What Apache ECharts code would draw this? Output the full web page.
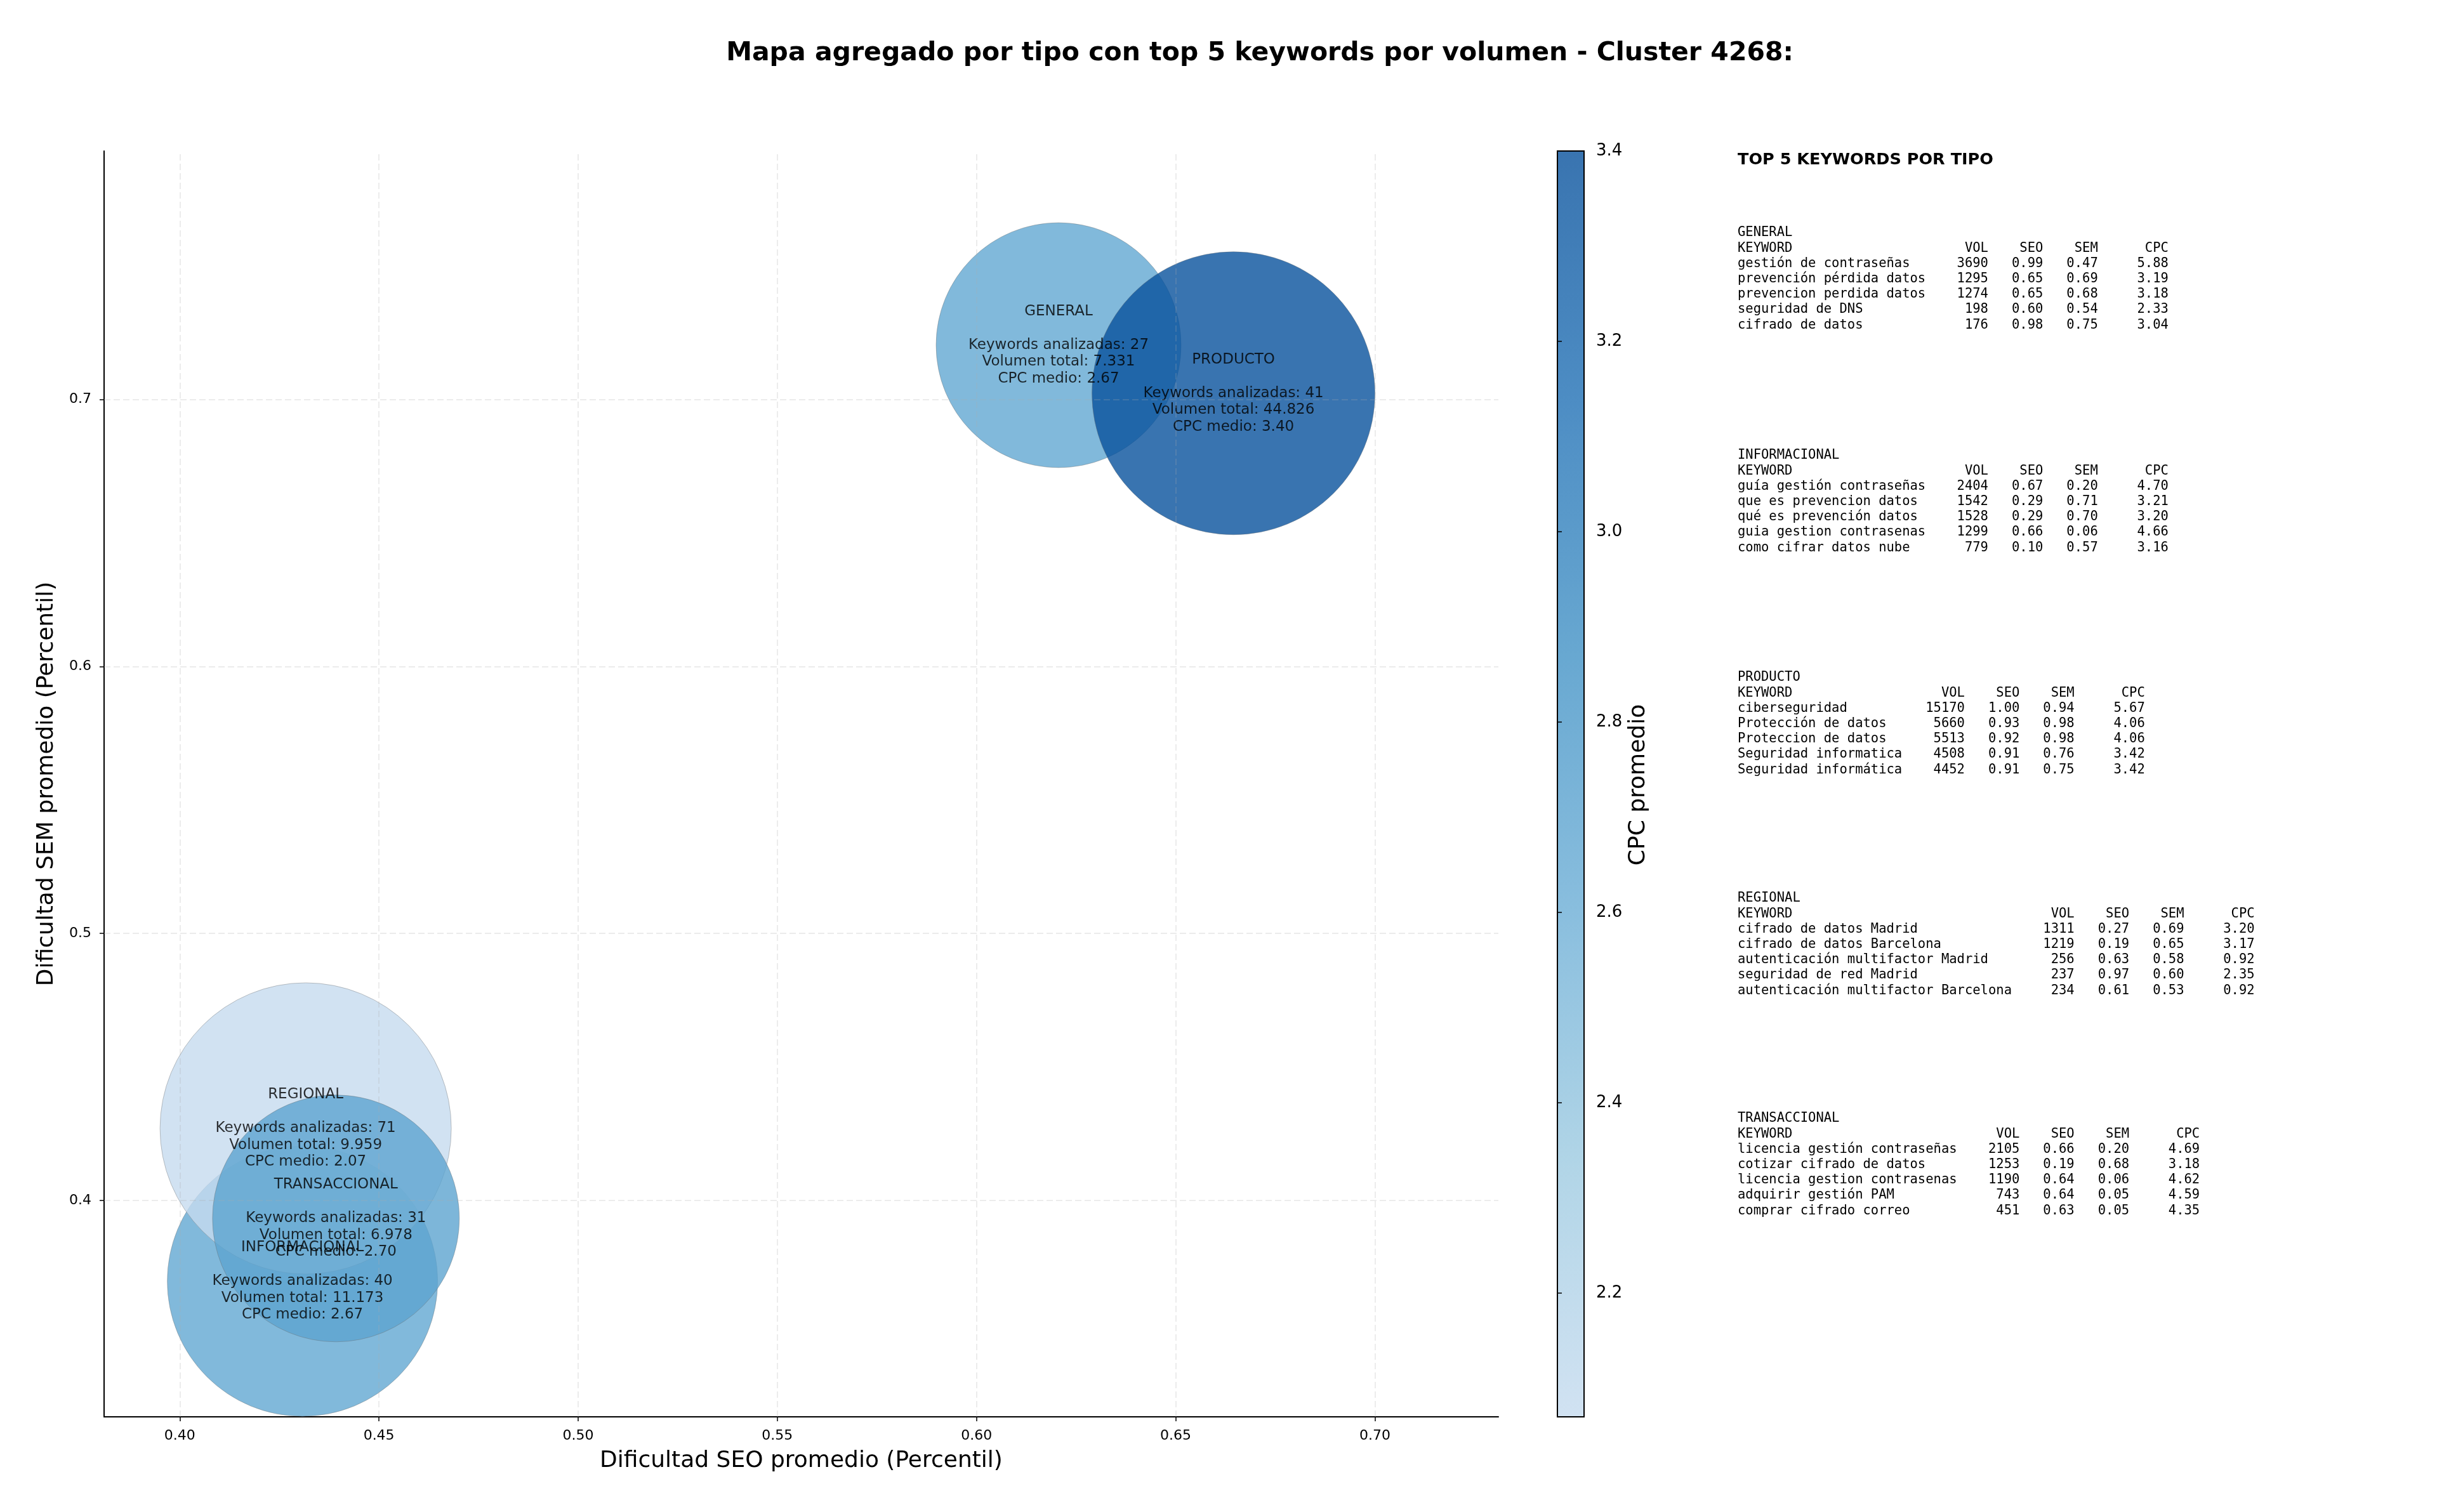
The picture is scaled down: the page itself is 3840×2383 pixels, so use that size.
<!DOCTYPE html>
<html>
<head>
<meta charset="UTF-8">
<title>Mapa agregado por tipo - Cluster 4268</title>
<script src="https://cdn.jsdelivr.net/npm/echarts@6/dist/echarts.min.js"></script>
<style>
html, body { margin: 0; padding: 0; background: #fff; }
#chart { width: 3840px; height: 2383px; }
</style>
</head>
<body>
<div id="chart"></div>
<script>
// datos agregados por tipo
var tipos = ['GENERAL', 'INFORMACIONAL', 'PRODUCTO', 'REGIONAL', 'TRANSACCIONAL'];
var seoMedio = [0.6206, 0.4308, 0.6645, 0.4316, 0.4392];
var semMedio = [0.7203, 0.3698, 0.7023, 0.4270, 0.3933];
var cpcMedio = [2.67, 2.67, 3.40, 2.07, 2.70];
var numKeywords = [27, 40, 41, 71, 31];
var volumenTotal = [7331, 11173, 44826, 9959, 6978];
var tamanoBurbuja = [386, 426, 446, 459, 389]; // diametro

var xTicks = [0.40, 0.45, 0.50, 0.55, 0.60, 0.65, 0.70];
var yTicks = [0.4, 0.5, 0.6, 0.7];
var cbTicks = [2.2, 2.4, 2.6, 2.8, 3.0, 3.2, 3.4];

// top 5 keywords por tipo: [keyword, vol, seo, sem, cpc]
var topGeneral = [
    ['gestión de contraseñas', 3690, 0.99, 0.47, 5.88],
    ['prevención pérdida datos', 1295, 0.65, 0.69, 3.19],
    ['prevencion perdida datos', 1274, 0.65, 0.68, 3.18],
    ['seguridad de DNS', 198, 0.60, 0.54, 2.33],
    ['cifrado de datos', 176, 0.98, 0.75, 3.04]
];
var topInformacional = [
    ['guía gestión contraseñas', 2404, 0.67, 0.20, 4.70],
    ['que es prevencion datos', 1542, 0.29, 0.71, 3.21],
    ['qué es prevención datos', 1528, 0.29, 0.70, 3.20],
    ['guia gestion contrasenas', 1299, 0.66, 0.06, 4.66],
    ['como cifrar datos nube', 779, 0.10, 0.57, 3.16]
];
var topProducto = [
    ['ciberseguridad', 15170, 1.00, 0.94, 5.67],
    ['Protección de datos', 5660, 0.93, 0.98, 4.06],
    ['Proteccion de datos', 5513, 0.92, 0.98, 4.06],
    ['Seguridad informatica', 4508, 0.91, 0.76, 3.42],
    ['Seguridad informática', 4452, 0.91, 0.75, 3.42]
];
var topRegional = [
    ['cifrado de datos Madrid', 1311, 0.27, 0.69, 3.20],
    ['cifrado de datos Barcelona', 1219, 0.19, 0.65, 3.17],
    ['autenticación multifactor Madrid', 256, 0.63, 0.58, 0.92],
    ['seguridad de red Madrid', 237, 0.97, 0.60, 2.35],
    ['autenticación multifactor Barcelona', 234, 0.61, 0.53, 0.92]
];
var topTransaccional = [
    ['licencia gestión contraseñas', 2105, 0.66, 0.20, 4.69],
    ['cotizar cifrado de datos', 1253, 0.19, 0.68, 3.18],
    ['licencia gestion contrasenas', 1190, 0.64, 0.06, 4.62],
    ['adquirir gestión PAM', 743, 0.64, 0.05, 4.59],
    ['comprar cifrado correo', 451, 0.63, 0.05, 4.35]
];
var bloques = [
    ['GENERAL', topGeneral],
    ['INFORMACIONAL', topInformacional],
    ['PRODUCTO', topProducto],
    ['REGIONAL', topRegional],
    ['TRANSACCIONAL', topTransaccional]
];

var SANS = '"DejaVu Sans", sans-serif';
var MONO = '"DejaVu Sans Mono", monospace';
var azules = ['#c6dbef', '#9ecae1', '#6baed6', '#4292c6', '#2171b5', '#08519c'];
var ALPHA = 0.8;

function mezcla(hex) {
    var r = parseInt(hex.substr(1, 2), 16), g = parseInt(hex.substr(3, 2), 16), b = parseInt(hex.substr(5, 2), 16);
    var f = function (c) { return Math.round(c * ALPHA + 255 * (1 - ALPHA)); };
    return 'rgb(' + f(r) + ',' + f(g) + ',' + f(b) + ')';
}
function miles(v) {
    return String(v).replace(/\B(?=(\d{3})+(?!\d))/g, '.');
}

var datos = tipos.map(function (t, i) {
    return { name: t, value: [seoMedio[i], semMedio[i], cpcMedio[i]] };
});

// degradado del colorbar (arriba = max)
var stops = azules.slice().reverse().map(function (c, i, arr) {
    return { offset: i / (arr.length - 1), color: mezcla(c) };
});

var graficos = [
    {
        type: 'text', x: 1985, y: 84,
        style: { text: 'Mapa agregado por tipo con top 5 keywords por volumen - Cluster 4268:', font: 'bold 41px ' + SANS, fill: '#000', align: 'center', verticalAlign: 'middle' }
    },
    {
        type: 'text', x: 2738, y: 252,
        style: { text: 'TOP 5 KEYWORDS POR TIPO', font: 'bold 25.5px ' + SANS, fill: '#000', align: 'left', verticalAlign: 'middle' }
    },
    {
        type: 'text', x: 2582, y: 1237, rotation: Math.PI / 2,
        style: { text: 'CPC promedio', font: '36px ' + SANS, fill: '#000', align: 'center', verticalAlign: 'middle' }
    }
];
// tablas en texto monoespaciado
var yBloque = [367, 718, 1068, 1416, 1763];
bloques.forEach(function (b, k) {
    var filas = b[1];
    var w = Math.max.apply(null, filas.map(function (f) { return f[0].length; }));
    var lineas = [b[0], 'KEYWORD'.padEnd(w) + 'VOL'.padStart(8) + 'SEO'.padStart(7) + 'SEM'.padStart(7) + 'CPC'.padStart(9)];
    filas.forEach(function (f) {
        lineas.push(f[0].padEnd(w) + String(f[1]).padStart(8) + f[2].toFixed(2).padStart(7) + f[3].toFixed(2).padStart(7) + f[4].toFixed(2).padStart(9));
    });
    graficos.push({
        type: 'text', x: 2738, y: yBloque[k] - 12,
        style: { text: lineas.join('\n'), font: '20.5px ' + MONO, lineHeight: 24.2, fill: '#000', align: 'left', verticalAlign: 'top' }
    });
});

var chart = echarts.init(document.getElementById('chart'));
var option = {
    backgroundColor: '#fff',
    animation: false,
    graphic: graficos,
    grid: [
        { left: 164, right: 1479, top: 238, bottom: 150 },
        { left: 2454, width: 42, top: 238, bottom: 150, show: true, borderColor: '#000', borderWidth: 2, backgroundColor: { type: 'linear', x: 0, y: 0, x2: 0, y2: 1, colorStops: stops } }
    ],
    visualMap: {
        show: false, type: 'continuous', seriesIndex: 0, dimension: 2,
        min: Math.min.apply(null, cpcMedio), max: Math.max.apply(null, cpcMedio),
        inRange: { color: azules }
    },
    xAxis: [
        {
            gridIndex: 0, type: 'value', min: 0.381, max: 0.731,
            name: 'Dificultad SEO promedio (Percentil)', nameLocation: 'middle', nameGap: 52,
            nameTextStyle: { fontFamily: SANS, fontSize: 36, color: '#000' },
            axisLine: { lineStyle: { color: '#000', width: 2 } },
            axisTick: { customValues: xTicks, length: 7, lineStyle: { color: '#000', width: 1.5 } },
            axisLabel: { customValues: xTicks, margin: 19, fontFamily: SANS, fontSize: 22, color: '#000', formatter: function (v) { return v.toFixed(2); } },
            splitLine: { show: false }
        },
        { gridIndex: 1, type: 'value', min: 0, max: 1, show: false }
    ],
    yAxis: [
        {
            gridIndex: 0, type: 'value', min: 0.319, max: 0.793,
            name: 'Dificultad SEM promedio (Percentil)', nameLocation: 'middle', nameGap: 72,
            nameTextStyle: { fontFamily: SANS, fontSize: 36, color: '#000' },
            axisLine: { show: true, lineStyle: { color: '#000', width: 2 } },
            axisTick: { show: true, customValues: yTicks, length: 7, lineStyle: { color: '#000', width: 1.5 } },
            axisLabel: { customValues: yTicks, margin: 20, fontFamily: SANS, fontSize: 22, color: '#000', formatter: function (v) { return v.toFixed(1); } },
            splitLine: { show: false }
        },
        {
            gridIndex: 1, type: 'value', position: 'right',
            min: Math.min.apply(null, cpcMedio), max: Math.max.apply(null, cpcMedio),
            axisLine: { show: false },
            axisTick: { show: true, customValues: cbTicks, length: 7, lineStyle: { color: '#000', width: 1.5 } },
            axisLabel: { customValues: cbTicks, margin: 19, fontFamily: SANS, fontSize: 26, color: '#000', formatter: function (v) { return v.toFixed(1); } },
            splitLine: { show: false }
        }
    ],
    series: [
        {
            type: 'scatter', xAxisIndex: 0, yAxisIndex: 0,
            data: datos,
            symbolSize: function (val, p) { return tamanoBurbuja[p.dataIndex]; },
            itemStyle: { opacity: ALPHA, borderColor: 'rgba(110,110,110,0.5)', borderWidth: 1 },
            label: {
                show: true, position: 'inside', color: '#000', fontFamily: SANS, fontSize: 23, lineHeight: 26.5, align: 'center',
                formatter: function (p) {
                    var i = p.dataIndex;
                    return tipos[i] + '\n\nKeywords analizadas: ' + numKeywords[i] + '\nVolumen total: ' + miles(volumenTotal[i]) + '\nCPC medio: ' + cpcMedio[i].toFixed(2);
                }
            },
            emphasis: { disabled: true },
            markLine: {
                silent: true, symbol: 'none', animation: false,
                label: { show: false },
                lineStyle: { color: 'rgba(176,176,176,0.3)', type: [10, 5], width: 1.5 },
                data: xTicks.map(function (v) { return { xAxis: v }; }).concat(yTicks.map(function (v) { return { yAxis: v }; }))
            }
        }
    ]
};
chart.setOption(option);
</script>
</body>
</html>
